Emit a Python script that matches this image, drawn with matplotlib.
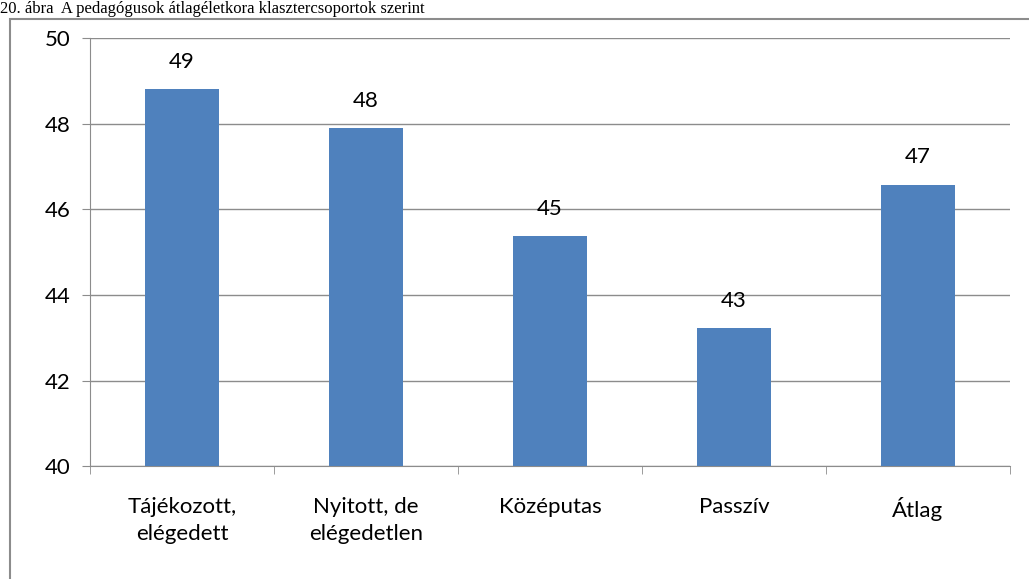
import matplotlib.pyplot as plt
from matplotlib.patches import Rectangle

# data
categories = ["Tájékozott,\nelégedett", "Nyitott, de\nelégedetlen", "Középutas", "Passzív", "Átlag"]
values = [48.82, 47.9, 45.38, 43.22, 46.58]
labels = ["49", "48", "45", "43", "47"]
yticks = [40, 42, 44, 46, 48, 50]

plt.rcParams['font.family'] = ['Lato', 'DejaVu Sans']

fig = plt.figure(figsize=(10.29, 5.79), dpi=100)
ax = fig.add_axes([0.0875, 0.195, 0.894, 0.739])

# outer chart frame (partly off the page)
fig.patches.append(Rectangle((10 / 1029, -0.05), 1.1, 1 - 19 / 579 + 0.05,
                             transform=fig.transFigure, fill=False,
                             edgecolor='#8c8c8c', linewidth=1.5))
# caption above the frame
fig.text(0.0, 1 - 17 / 579, "20. ábra  A pedagógusok átlagéletkora klasztercsoportok szerint",
         family='Liberation Serif', fontsize=12, va='bottom', ha='left')

x = range(len(categories))
bars = ax.bar(x, values, width=0.4, color='#4f81bd', zorder=3)
for b, lab in zip(bars, labels):
    ax.text(b.get_x() + b.get_width() / 2, b.get_height() + 0.4, lab,
            ha='center', va='bottom', fontsize=16)

ax.set_ylim(40, 50)
ax.set_xlim(-0.5, len(categories) - 0.5)
ax.set_yticks(yticks)
ax.yaxis.grid(True, color='#8c8c8c', linewidth=1, zorder=0)
ax.set_xticks(x)
ax.set_xticklabels(categories, fontsize=16, linespacing=1.45)
ax.set_xticks([i + 0.5 for i in range(-1, len(categories))], minor=True)
ax.tick_params(axis='x', which='major', length=0, pad=22)
ax.tick_params(axis='x', which='minor', length=6, color='#8c8c8c')
ax.tick_params(axis='y', labelsize=16, length=6, color='#8c8c8c', pad=8)
for s in ['top', 'right']:
    ax.spines[s].set_visible(False)
for s in ['left', 'bottom']:
    ax.spines[s].set_color('#8c8c8c')

fig.savefig('out.png', dpi=100)
